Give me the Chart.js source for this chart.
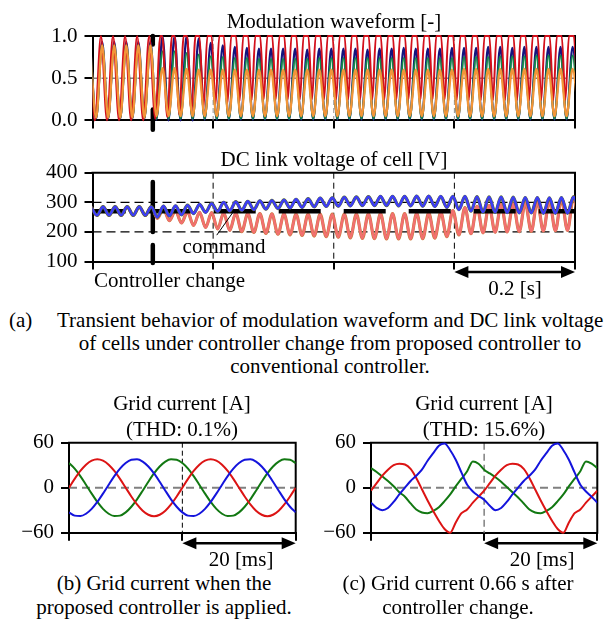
<!DOCTYPE html>
<html><head><meta charset="utf-8">
<script src="https://cdn.jsdelivr.net/npm/chart.js@4.4.1/dist/chart.umd.min.js"></script>
<style>
html,body{margin:0;padding:0;background:#fff;}
body{width:614px;height:623px;position:relative;overflow:hidden;font-family:"Liberation Serif","Times New Roman",serif;font-size:21px;color:#000;}
canvas{position:absolute;}
.t{position:absolute;white-space:nowrap;line-height:24px;z-index:5;}
.c{transform:translateX(-50%);}
</style></head><body>
<canvas id="cMod" width="614" height="140" style="left:0;top:0"></canvas>
<canvas id="cDc" width="614" height="160" style="left:0;top:140px"></canvas>
<canvas id="cB" width="307" height="180" style="left:0;top:380px"></canvas>
<canvas id="cC" width="307" height="180" style="left:307px;top:380px"></canvas>

<div class="t c" style="left:334px;top:9px">Modulation waveform [-]</div>
<div class="t c" style="left:334px;top:147px">DC link voltage of cell [V]</div>
<div class="t c" style="left:224px;top:234px">command</div>
<div class="t" style="left:94px;top:268px">Controller change</div>
<div class="t c" style="left:515px;top:276px">0.2 [s]</div>
<div class="t" style="left:9px;top:308px">(a)</div>
<div class="t" style="left:57px;top:308px">Transient behavior of modulation waveform and DC link voltage</div>
<div class="t c" style="left:330px;top:331px">of cells under controller change from proposed controller to</div>
<div class="t c" style="left:330px;top:354px">conventional controller.</div>
<div class="t c" style="left:182px;top:391px">Grid current [A]</div>
<div class="t c" style="left:182px;top:417px">(THD: 0.1%)</div>
<div class="t c" style="left:484px;top:391px">Grid current [A]</div>
<div class="t c" style="left:484px;top:417px">(THD: 15.6%)</div>
<div class="t c" style="left:241px;top:547px">20 [ms]</div>
<div class="t c" style="left:542px;top:547px">20 [ms]</div>
<div class="t c" style="left:164px;top:571px">(b) Grid current when the</div>
<div class="t c" style="left:164px;top:595px">proposed controller is applied.</div>
<div class="t c" style="left:458px;top:571px">(c) Grid current 0.66 s after</div>
<div class="t c" style="left:458px;top:595px">controller change.</div>

<script>
// ---------- axis ticks ----------
const timeTicks = [0, 0.2, 0.4, 0.6, 0.8];          // s
const modTickValues = [0, 0.5, 1];
const modTickLabels = ['0.0', '0.5', '1.0'];
const dcTickValues = [100, 200, 300, 400];
const dcTickLabels = ['100', '200', '300', '400'];
const gridTickValues = [-60, 0, 60];
const gridTickLabels = ['\u221260', '0', '60'];
const msTicks = [0, 20, 40];                         // ms

const controllerChange = 0.1;   // s
const commandVoltage = 270;     // V
const cycleTime = 0.02;         // s (50 Hz)

// ---------- modulation waveform: per-cycle extremes (40 cycles) ----------
const navyPeak = [0.93,0.93,0.93,0.93,0.93, 1.0,1.0,1.0,0.97,0.92, 0.89,0.87,0.86,0.85,0.85,0.85,0.85,0.84,0.85,0.85, 0.85,0.85,0.84,0.85,0.85,0.86,0.85,0.85,0.85,0.86, 0.86,0.86,0.87,0.87,0.86,0.87,0.87,0.87,0.87,0.87];
const navyTrough = [0.02,0.02,0.02,0.02,0.02, 0.01,0.0,0.0,0.0,0.01, 0.01,0.01,0.01,0.01,0.01,0.01,0.01,0.01,0.01,0.01, 0.01,0.01,0.01,0.01,0.01,0.01,0.01,0.01,0.01,0.01, 0.01,0.01,0.01,0.01,0.01,0.01,0.01,0.01,0.01,0.01];
const greenPeak = [0.90,0.90,0.90,0.90,0.90, 0.82,0.82,0.80,0.78,0.76, 0.75,0.74,0.74,0.73,0.73,0.73,0.73,0.73,0.74,0.74, 0.74,0.74,0.74,0.74,0.74,0.74,0.74,0.74,0.74,0.74, 0.75,0.75,0.75,0.76,0.76,0.76,0.77,0.77,0.77,0.77];
const greenTrough = [0.03,0.03,0.03,0.03,0.03, 0.02,0.02,0.02,0.02,0.02, 0.02,0.02,0.02,0.02,0.02,0.02,0.02,0.02,0.02,0.02, 0.02,0.02,0.02,0.02,0.02,0.02,0.02,0.02,0.02,0.02, 0.02,0.02,0.02,0.02,0.02,0.02,0.02,0.02,0.02,0.02];
const orangePeak = [0.89,0.89,0.89,0.89,0.89, 0.62,0.62,0.61,0.60,0.60, 0.60,0.60,0.60,0.60,0.60,0.60,0.60,0.60,0.60,0.60, 0.60,0.60,0.60,0.60,0.60,0.60,0.60,0.60,0.60,0.60, 0.61,0.61,0.61,0.61,0.61,0.61,0.61,0.61,0.61,0.61];
const orangeTrough = [0.03,0.03,0.03,0.03,0.03, 0.05,0.05,0.05,0.05,0.05, 0.05,0.05,0.05,0.05,0.05,0.05,0.05,0.05,0.05,0.05, 0.05,0.05,0.05,0.05,0.05,0.05,0.05,0.05,0.05,0.05, 0.05,0.05,0.05,0.05,0.05,0.05,0.05,0.05,0.05,0.05];
const redTrough = [0,0,0,0,0, 0.02,0.04,0.07,0.11,0.15, 0.19,0.21,0.23,0.24,0.25,0.25,0.25,0.25,0.25,0.25, 0.25,0.25,0.25,0.25,0.25,0.25,0.25,0.25,0.25,0.25, 0.24,0.24,0.24,0.24,0.24,0.24,0.24,0.24,0.24,0.24];
const redHold = [0,0,0,0,0, 0.15,0.22,0.28,0.32,0.35, 0.38,0.40,0.40,0.40,0.40,0.40,0.40,0.40,0.40,0.40, 0.40,0.40,0.40,0.40,0.40,0.40,0.40,0.40,0.40,0.40, 0.40,0.40,0.40,0.40,0.40,0.40,0.40,0.40,0.40,0.40];

// ---------- DC link voltage: per-cycle extremes (40 cycles) ----------
const bluePeak = [285,285,285,285,285, 287,288,290,293,296, 300,302,303,305,306,308,310,312,314,315, 317,318,319,320,320,320,321,321,320,320, 320,319,318,318,317,316,316,315,316,318];
const blueTrough = [256,256,256,256,256, 250,254,258,262,266, 269,271,273,275,277,279,281,283,285,286, 287,288,289,289,289,288,288,287,286,283, 275,270,267,266,265,264,264,263,263,263];
const salmonPeak = [285,285,285,285,285, 278,272,268,266,265, 264,263,262,262,261,261,260,260,260,260, 260,260,261,262,262,262,263,264,266,272, 282,286,289,292,295,298,302,306,311,318];
const salmonTrough = [256,256,256,256,256, 246,238,230,222,215, 210,205,201,198,195,192,190,188,186,184, 182,180,178,177,176,176,176,177,179,184, 190,194,197,199,200,201,202,203,204,205];

// ---------- grid currents, 1 ms samples 0..40 ms ----------
const bRed = [0,11.7,22.3,30.7,36.1,38,36.1,30.7,22.3,11.7,0,-11.7,-22.3,-30.7,-36.1,-38,-36.1,-30.7,-22.3,-11.7,
              0,11.7,22.3,30.7,36.1,38,36.1,30.7,22.3,11.7,0,-11.7,-22.3,-30.7,-36.1,-38,-36.1,-30.7,-22.3,-11.7,0];
const bBlue = [-32.9,-37.2,-37.8,-34.7,-28.2,-19,-7.9,4,15.5,25.4,32.9,37.2,37.8,34.7,28.2,19,7.9,-4,-15.5,-25.4,
               -32.9,-37.2,-37.8,-34.7,-28.2,-19,-7.9,4,15.5,25.4,32.9,37.2,37.8,34.7,28.2,19,7.9,-4,-15.5,-25.4,-32.9];
const bGreen = [32.9,25.4,15.5,4,-7.9,-19,-28.2,-34.7,-37.8,-37.2,-32.9,-25.4,-15.5,-4,7.9,19,28.2,34.7,37.8,37.2,
                32.9,25.4,15.5,4,-7.9,-19,-28.2,-34.7,-37.8,-37.2,-32.9,-25.4,-15.5,-4,7.9,19,28.2,34.7,37.8,37.2,32.9];
const cRed = [-4,6,16,24,30,32,31,25,13,-2,-17,-31,-44,-55,-60,-46,-34,-29,-20,-12,
              -4,6,16,24,30,32,31,25,13,-2,-17,-31,-44,-55,-60,-46,-34,-29,-20,-12,-4];
const cBlue = [-20,-27,-30,-27,-19,-9,0,9,16,24,36,46,56,59,50,37,20,4,-5,-11,
               -16,-24,-30,-27,-19,-9,0,9,16,24,36,46,56,59,50,37,20,4,-5,-12,-20];
const cGreen = [26,21,15,9,2,-6,-12,-21,-29,-33,-34,-31,-26,-18,-9,2,12,22,35,32,
                24,19,14,8,1,-6,-13,-21,-29,-33,-34,-31,-26,-18,-9,2,12,22,35,32,26];

// ---------- build point lists ----------
function wave(peaks, troughs, troughPhase) {
  const pts = [{x: troughPhase - cycleTime / 2, y: peaks[0]}];
  for (let k = 0; k < peaks.length; k++) {
    const tt = troughPhase + k * cycleTime;
    pts.push({x: tt, y: troughs[k]});
    pts.push({x: tt + cycleTime / 2, y: peaks[k]});
  }
  pts.push({x: troughPhase + peaks.length * cycleTime, y: troughs[troughs.length - 1]});
  return pts;
}
function clippedWave(troughs, holds, troughPhase) {
  const pts = [{x: troughPhase - cycleTime / 2, y: 1}];
  for (let k = 0; k < troughs.length; k++) {
    const tt = troughPhase + k * cycleTime;
    pts.push({x: tt, y: troughs[k]});
    if (holds[k] > 0) {
      pts.push({x: tt + cycleTime * (0.5 - holds[k] / 2), y: 1});
      pts.push({x: tt + cycleTime * (0.5 + holds[k] / 2), y: 1});
    } else {
      pts.push({x: tt + cycleTime / 2, y: 1});
    }
  }
  pts.push({x: troughPhase + troughs.length * cycleTime, y: troughs[troughs.length - 1]});
  return pts;
}
const series = arr => arr.map((v, i) => ({x: i, y: v}));

Chart.defaults.font.family = '"Liberation Serif","Times New Roman",serif';
Chart.defaults.font.size = 21;
Chart.defaults.color = '#000';

function makeDeco(cfg) {
  return {
    id: 'deco',
    beforeDatasetsDraw(chart) {
      const {ctx, chartArea: a, scales: {x, y}} = chart;
      ctx.save();
      (cfg.hLines || []).forEach(l => {
        const py = y.getPixelForValue(l.v);
        ctx.beginPath(); ctx.setLineDash(l.dash); ctx.lineWidth = l.width; ctx.strokeStyle = l.color;
        ctx.moveTo(a.left, py); ctx.lineTo(a.right, py); ctx.stroke();
      });
      (cfg.vLines || []).forEach(l => {
        const px = x.getPixelForValue(l.v);
        ctx.beginPath(); ctx.setLineDash(l.dash); ctx.lineWidth = l.width; ctx.strokeStyle = l.color;
        ctx.moveTo(px, a.top); ctx.lineTo(px, a.bottom); ctx.stroke();
      });
      if (cfg.marker) {
        const px = x.getPixelForValue(cfg.marker.x);
        ctx.setLineDash([]); ctx.lineWidth = 4.5; ctx.lineCap = 'round'; ctx.strokeStyle = '#000';
        cfg.marker.segs.forEach(s => {
          ctx.beginPath(); ctx.moveTo(px, y.getPixelForValue(s[0])); ctx.lineTo(px, y.getPixelForValue(s[1])); ctx.stroke();
        });
      }
      ctx.setLineDash([]); ctx.lineCap = 'butt'; ctx.lineWidth = 2; ctx.strokeStyle = '#000';
      ctx.beginPath(); ctx.moveTo(a.left - 1, a.top); ctx.lineTo(a.right, a.top); ctx.lineTo(a.right, a.bottom + 1); ctx.stroke();
      ctx.restore();
    },
    afterDatasetsDraw(chart) {
      const {ctx, chartArea: a, scales: {x, y}} = chart;
      ctx.save();
      if (cfg.leader) {
        const L = cfg.leader;
        ctx.beginPath(); ctx.lineWidth = 1; ctx.strokeStyle = '#000';
        ctx.moveTo(x.getPixelForValue(L[0]), y.getPixelForValue(L[1]));
        ctx.lineTo(x.getPixelForValue(L[2]), y.getPixelForValue(L[3])); ctx.stroke();
      }
      if (cfg.arrow) {
        const x1 = x.getPixelForValue(cfg.arrow.from), x2 = x.getPixelForValue(cfg.arrow.to);
        const py = a.bottom + cfg.arrow.below;
        const hl = 14, hw = 6;
        ctx.fillStyle = '#000'; ctx.strokeStyle = '#000'; ctx.lineWidth = 2.5;
        ctx.beginPath(); ctx.moveTo(x1 + hl - 2, py); ctx.lineTo(x2 - hl + 2, py); ctx.stroke();
        ctx.beginPath(); ctx.moveTo(x1, py); ctx.lineTo(x1 + hl, py - hw); ctx.lineTo(x1 + hl, py + hw); ctx.closePath(); ctx.fill();
        ctx.beginPath(); ctx.moveTo(x2, py); ctx.lineTo(x2 - hl, py - hw); ctx.lineTo(x2 - hl, py + hw); ctx.closePath(); ctx.fill();
      }
      ctx.restore();
    }
  };
}

function axes(o) {
  return {
    x: {
      type: 'linear', min: o.xTicks[0], max: o.xTicks[o.xTicks.length - 1],
      afterBuildTicks: s => { s.ticks = o.xTicks.map(v => ({value: v})); },
      afterFit: s => { s.height = o.xH; },
      ticks: {display: false},
      grid: {drawOnChartArea: false, drawTicks: true, tickLength: 8, tickWidth: 2, lineWidth: 2, tickColor: '#000', color: '#000'},
      border: {display: true, width: 2, color: '#000'}
    },
    y: {
      type: 'linear', min: o.yVals[0], max: o.yVals[o.yVals.length - 1],
      afterBuildTicks: s => { s.ticks = o.yVals.map(v => ({value: v})); },
      afterFit: s => { s.width = o.yW; },
      ticks: {padding: 7, callback: (v, i) => o.yLabels[i], font: {size: 21}},
      grid: {drawOnChartArea: false, drawTicks: true, tickLength: 8, tickWidth: 2, lineWidth: 2, tickColor: '#000', color: '#000'},
      border: {display: true, width: 2, color: '#000'}
    }
  };
}
const line = (data, color, width, extra) => Object.assign({
  data, borderColor: color, borderWidth: width, pointRadius: 0,
  cubicInterpolationMode: 'monotone', fill: false, borderJoinStyle: 'round',
  clip: {left: 0, right: 0, top: 3, bottom: 3}
}, extra || {});

const baseOpts = (sc, pad) => ({
  responsive: false, animation: false, devicePixelRatio: 1,
  layout: {padding: pad},
  plugins: {legend: {display: false}, tooltip: {enabled: false}},
  scales: sc, events: []
});

// ---------- (a) modulation waveform ----------
new Chart(document.getElementById('cMod'), {
  type: 'line',
  data: {datasets: [
    line(wave(orangePeak, orangeTrough, 0.006), '#f29538', 2.3),
    line(clippedWave(redTrough, redHold, 0.004), '#d3101c', 2),
    line(wave(greenPeak, greenTrough, 0.006), '#13874a', 2),
    line(wave(navyPeak, navyTrough, 0.006), '#14147e', 2.2)
  ]},
  options: baseOpts(axes({xTicks: timeTicks, xH: 13.3, yVals: modTickValues, yLabels: modTickLabels, yW: 92.5}),
                    {left: 0, top: 36, right: 39, bottom: 0}),
  plugins: [makeDeco({
    hLines: [{v: 0.5, color: '#808080', dash: [6, 3], width: 1.5}],
    vLines: [0.2, 0.4, 0.6].map(v => ({v, color: '#909090', dash: [5, 3], width: 1})),
    marker: {x: controllerChange, segs: [[1.0, 0.9], [0.13, -0.11]]}
  })]
});

// ---------- (a) DC link voltage ----------
new Chart(document.getElementById('cDc'), {
  type: 'line',
  data: {datasets: [
    line(wave(bluePeak, blueTrough, 0.0075), '#3d3df4', 2.6),
    line(wave(bluePeak, blueTrough, 0.0075), '#5a6e20', 3.3),
    line([{x: 0, y: commandVoltage}, {x: 0.8, y: commandVoltage}], '#000', 4.5,
         {borderDash: [42, 23], borderDashOffset: 8.8, cubicInterpolationMode: 'default', tension: 0}),
    line(wave(salmonPeak, salmonTrough, 0.0075), '#f27070', 2.5),
    line(wave(salmonPeak, salmonTrough, 0.0075), '#c87a3a', 3.2)
  ]},
  options: baseOpts(axes({xTicks: timeTicks, xH: 38.5, yVals: dcTickValues, yLabels: dcTickLabels, yW: 92.5}),
                    {left: 0, top: 32.7, right: 39, bottom: 0}),
  plugins: [makeDeco({
    hLines: [300, 200].map(v => ({v, color: '#000', dash: [9, 5], width: 1.2})),
    vLines: [0.2, 0.4, 0.6].map(v => ({v, color: '#000', dash: [6, 4], width: 1})),
    marker: {x: controllerChange, segs: [[369, 200], [156, 95]]},
    leader: [0.206, 189, 0.2335, 268],
    arrow: {from: 0.6, to: 0.8, below: 10.5}
  })]
});

// ---------- (b) grid current ----------
new Chart(document.getElementById('cB'), {
  type: 'line',
  data: {datasets: [
    line(series(bBlue), '#1414dc', 2),
    line(series(bRed), '#dc1414', 2),
    line(series(bGreen), '#127812', 2)
  ]},
  options: baseOpts(axes({xTicks: msTicks, xH: 27.3, yVals: gridTickValues, yLabels: gridTickLabels, yW: 69}),
                    {left: 0, top: 62.7, right: 11.3, bottom: 0}),
  plugins: [makeDeco({
    hLines: [{v: 0, color: '#808080', dash: [8, 5], width: 2}],
    vLines: [{v: 20, color: '#000', dash: [5, 3], width: 1}],
    arrow: {from: 20, to: 40, below: 10.6}
  })]
});

// ---------- (c) grid current ----------
new Chart(document.getElementById('cC'), {
  type: 'line',
  data: {datasets: [
    line(series(cBlue), '#1414dc', 2),
    line(series(cRed), '#dc1414', 2),
    line(series(cGreen), '#127812', 2)
  ]},
  options: baseOpts(axes({xTicks: msTicks, xH: 27.3, yVals: gridTickValues, yLabels: gridTickLabels, yW: 64}),
                    {left: 0, top: 62.7, right: 16.7, bottom: 0}),
  plugins: [makeDeco({
    hLines: [{v: 0, color: '#808080', dash: [8, 5], width: 2}],
    vLines: [{v: 20, color: '#808080', dash: [7, 4], width: 1.5}],
    arrow: {from: 20, to: 40, below: 10.6}
  })]
});
</script>
</body></html>
